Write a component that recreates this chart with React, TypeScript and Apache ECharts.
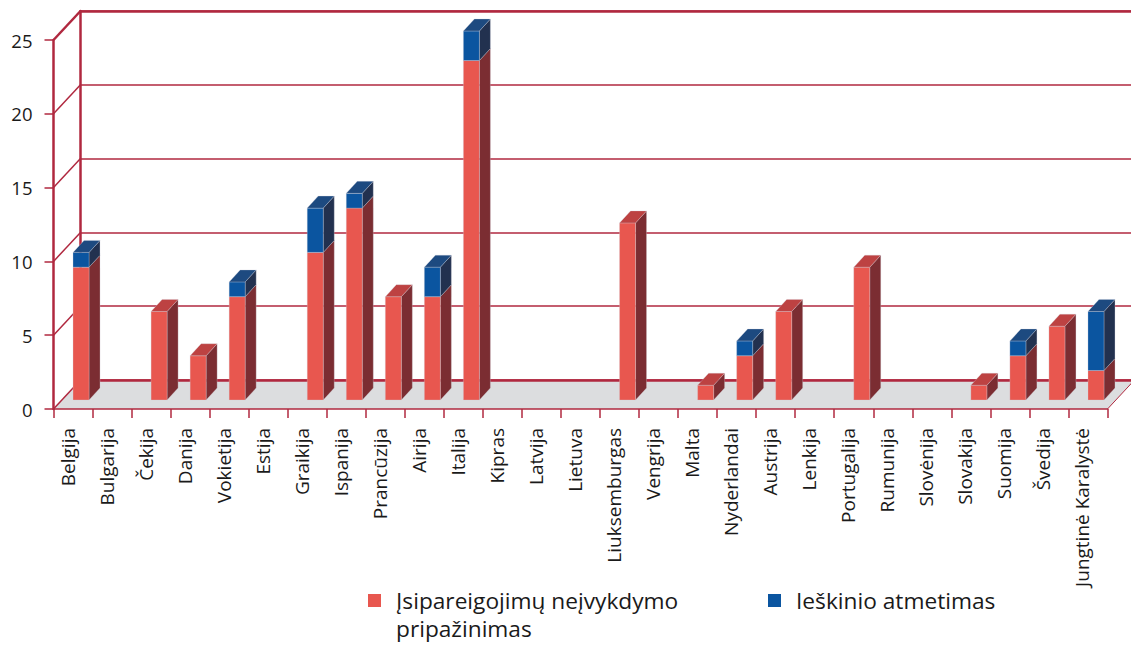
import React, { useEffect, useRef } from 'react';
import * as echarts from 'echarts';

const categories = ['Belgija', 'Bulgarija', 'Čekija', 'Danija', 'Vokietija', 'Estija', 'Graikija', 'Ispanija', 'Prancūzija', 'Airija', 'Italija', 'Kipras', 'Latvija', 'Lietuva', 'Liuksemburgas', 'Vengrija', 'Malta', 'Nyderlandai', 'Austrija', 'Lenkija', 'Portugalija', 'Rumunija', 'Slovėnija', 'Slovakija', 'Suomija', 'Švedija', 'Jungtinė Karalystė'];
const recognition = [9, 0, 6, 3, 7, 0, 10, 13, 7, 7, 23, 0, 0, 0, 12, 0, 1, 3, 6, 0, 9, 0, 0, 1, 3, 5, 2];
const dismissal = [1, 0, 0, 0, 1, 0, 3, 1, 0, 2, 2, 0, 0, 0, 0, 0, 0, 1, 0, 0, 0, 0, 0, 0, 1, 0, 4];
const yTicks = [0, 5, 10, 15, 20, 25];

const RED_NAME = 'Įsipareigojimų neįvykdymo pripažinimas';
const BLUE_NAME = 'Ieškinio atmetimas';

const FONT = "'Open Sans', 'Noto Sans', sans-serif";
const LINE = '#b0283f';
const TEXT = '#1a1a1a';

// geometry
const DX = 27; // back wall depth offset
const DY = 29;
const BAR_W = 16;
const BAR_DX = 11;
const BAR_DY = 12;
const BAR_OFF_X = 0;
const BAR_OFF_Y = 9;

const RED = { front: '#e8574f', side: '#7b2d32', top: '#bd4242' };
const BLUE = { front: '#0b55a0', side: '#22314f', top: '#1d4a80' };

function makeBarRenderer(colors: { front: string; side: string; top: string }) {
  return (params: any, api: any) => {
    const idx = api.value(0);
    const lo = api.value(1);
    const hi = api.value(2);
    const hasAbove = api.value(3) > 0;
    if (!(hi > lo)) return { type: 'group', children: [] };
    const pb = api.coord([idx, lo]);
    const pt = api.coord([idx, hi]);
    const x = pb[0] + BAR_OFF_X;
    const yb = pb[1] - BAR_OFF_Y;
    const yt = pt[1] - BAR_OFF_Y;
    const edge = { stroke: 'rgba(210,210,220,0.5)', lineWidth: 0.6 };
    const children: any[] = [
      {
        type: 'polygon',
        shape: { points: [[x + BAR_W, yb], [x + BAR_W, yt], [x + BAR_W + BAR_DX, yt - BAR_DY], [x + BAR_W + BAR_DX, yb - BAR_DY]] },
        style: { fill: colors.side, ...edge },
      },
      {
        type: 'rect',
        shape: { x, y: yt, width: BAR_W, height: yb - yt },
        style: { fill: colors.front, ...edge },
      },
    ];
    if (!hasAbove) {
      children.push({
        type: 'polygon',
        shape: { points: [[x, yt], [x + BAR_W, yt], [x + BAR_W + BAR_DX, yt - BAR_DY], [x + BAR_DX, yt - BAR_DY]] },
        style: { fill: colors.top, ...edge },
      });
    }
    return { type: 'group', children };
  };
}

function renderFloor(params: any, api: any) {
  const cs = params.coordSys;
  const x0 = cs.x;
  const x1 = cs.x + cs.width;
  const yb = cs.y + cs.height;
  const children: any[] = [
    {
      type: 'polygon',
      shape: { points: [[x0, yb], [x1, yb], [x1 + DX, yb - DY], [x0 + DX, yb - DY]] },
      style: { fill: '#dcdddf' },
    },
    {
      type: 'line',
      shape: { x1: x1, y1: yb, x2: x1 + DX, y2: yb - DY },
      style: { stroke: LINE, lineWidth: 1 },
    },
  ];
  yTicks.forEach((v) => {
    const p = api.coord([0, v]);
    children.push({
      type: 'line',
      shape: { x1: x0, y1: p[1], x2: x0 + DX, y2: p[1] - DY },
      style: { stroke: LINE, lineWidth: v === 25 ? 2.5 : 1.5 },
    });
  });
  return { type: 'group', children };
}

export default function App() {
  const ref = useRef<HTMLDivElement>(null);
  useEffect(() => {
    if (!ref.current) return;
    const chart = echarts.init(ref.current, null, { renderer: 'svg' });
    const redData = categories.map((_, i) => [i, 0, recognition[i], dismissal[i]]);
    const blueData = categories.map((_, i) => [i, recognition[i], recognition[i] + dismissal[i], 0]);
    chart.setOption({
      animation: false,
      backgroundColor: '#ffffff',
      grid: [
        { left: 53.5, right: 23.5, top: 40, bottom: 236 },
        { left: 53.5 + DX, right: 0, top: 40 - DY, bottom: 236 + DY },
      ],
      legend: [
        {
          data: [RED_NAME],
          left: 368,
          top: 558.5,
          padding: 0,
          itemWidth: 13,
          itemHeight: 13,
          icon: 'rect',
          selectedMode: false,
          formatter: () => '\nĮsipareigojimų neįvykdymo\npripažinimas',
          textStyle: { fontFamily: FONT, fontSize: 22.7, lineHeight: 28, color: TEXT, padding: [0, 0, 0, 10] },
        },
        {
          data: [BLUE_NAME],
          left: 768,
          top: 586.5,
          padding: 0,
          itemWidth: 13,
          itemHeight: 13,
          icon: 'rect',
          selectedMode: false,
          textStyle: { fontFamily: FONT, fontSize: 22.7, lineHeight: 28, color: TEXT, padding: [0, 0, 0, 10] },
        },
      ],
      xAxis: [
        {
          type: 'category',
          gridIndex: 0,
          data: categories,
          boundaryGap: true,
          axisLine: { lineStyle: { color: LINE, width: 1.5 } },
          axisTick: { show: true, length: 9, lineStyle: { color: LINE, width: 1.5 } },
          axisLabel: {
            rotate: 90,
            interval: 0,
            margin: 19,
            fontFamily: FONT,
            fontSize: 19,
            color: TEXT,
            verticalAlign: 'bottom',
            lineHeight: 11,
          },
          splitLine: { show: false },
        },
        {
          type: 'category',
          gridIndex: 1,
          data: categories,
          position: 'bottom',
          axisLine: { lineStyle: { color: LINE, width: 2.5 } },
          axisTick: { show: false },
          axisLabel: { show: false },
        },
        {
          type: 'category',
          gridIndex: 1,
          data: categories,
          position: 'top',
          axisLine: { lineStyle: { color: LINE, width: 2.5 } },
          axisTick: { show: false },
          axisLabel: { show: false },
        },
      ],
      yAxis: [
        {
          type: 'value',
          gridIndex: 0,
          min: 0,
          max: 25,
          interval: 5,
          axisLine: { show: true, lineStyle: { color: LINE, width: 2.5 } },
          axisTick: { show: true, length: 9, lineStyle: { color: LINE, width: 1.5 } },
          axisLabel: { margin: 21, fontFamily: FONT, fontSize: 18.5, color: TEXT },
          splitLine: { show: false },
        },
        {
          type: 'value',
          gridIndex: 1,
          min: 0,
          max: 25,
          interval: 5,
          axisLine: { show: true, lineStyle: { color: LINE, width: 2.5 } },
          axisTick: { show: false },
          axisLabel: { show: false },
          splitLine: { show: true, lineStyle: { color: LINE, width: 1.5 } },
        },
      ],
      series: [
        {
          name: 'floor',
          type: 'custom',
          xAxisIndex: 0,
          yAxisIndex: 0,
          z: -1,
          silent: true,
          data: [[0, 0]],
          renderItem: renderFloor,
        },
        {
          name: RED_NAME,
          type: 'custom',
          xAxisIndex: 0,
          yAxisIndex: 0,
          itemStyle: { color: RED.front },
          encode: { x: 0, y: [1, 2] },
          data: redData,
          renderItem: makeBarRenderer(RED),
        },
        {
          name: BLUE_NAME,
          type: 'custom',
          xAxisIndex: 0,
          yAxisIndex: 0,
          itemStyle: { color: BLUE.front },
          encode: { x: 0, y: [1, 2] },
          data: blueData,
          renderItem: makeBarRenderer(BLUE),
        },
      ],
    });
    return () => chart.dispose();
  }, []);
  return <div ref={ref} style={{ position: 'absolute', left: 0, top: 0, width: 1131, height: 645 }} />;
}
